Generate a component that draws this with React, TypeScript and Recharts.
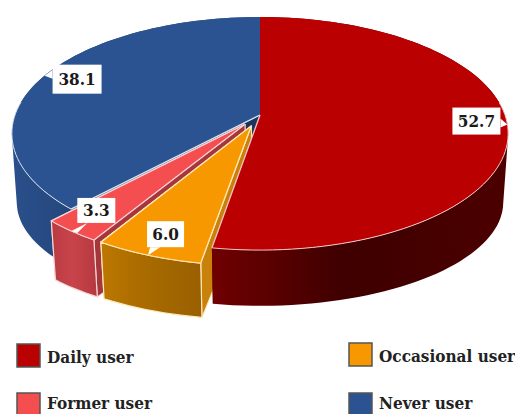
import React from "react";
import { PieChart, Pie, Legend } from "recharts";

// Data (drawn in this order, counter-clockwise from the top, so the front slices overlap correctly)
const names = ["Never user", "Former user", "Occasional user", "Daily user"];
const values = [38.1, 3.3, 6.0, 52.7];
const rows = names.map((name, i) => ({ name, value: values[i] }));

// Legend layout order
const legendNames = ["Daily user", "Occasional user", "Former user", "Never user"];

// Styles
const TOP: Record<string, string> = {
  "Daily user": "#BA0000",
  "Occasional user": "#F79800",
  "Former user": "#F44E50",
  "Never user": "#2C5391",
};
const CUT: Record<string, string> = {
  "Daily user": "#5a0000",
  "Occasional user": "#C8810A",
  "Former user": "#A5363C",
  "Never user": "#1B3560",
};
const WALL: Record<string, string[]> = {
  "Daily user": ["#700000", "#3E0000", "#4C0000"],
  "Occasional user": ["#BC7700", "#A86B00", "#9A5F00"],
  "Former user": ["#B93A42", "#C9444A", "#B5383F"],
  "Never user": ["#2A4F8A", "#1F3F72", "#2A4C82"],
};
const EDGE: Record<string, string> = {
  "Daily user": "#F6C8C8",
  "Occasional user": "#FFE9B8",
  "Former user": "#F8D4D4",
  "Never user": "#DCE4F0",
};
const EXPLODE: Record<string, number> = { "Occasional user": 0.1, "Former user": 0.1 };
const LABEL_BOX: Record<string, number[]> = {
  "Daily user": [-55, -17, 48, 27],
  "Never user": [8, -11, 49, 29],
  "Former user": [6, -33, 38, 25],
  "Occasional user": [-1, -34, 37, 26],
};
const LEGEND_POS: Record<string, number[]> = {
  "Daily user": [17, 344, 47, 363],
  "Occasional user": [349, 343, 379, 362],
  "Former user": [17, 393, 47, 409],
  "Never user": [349, 393, 379, 409],
};

const FONT = "'DejaVu Serif Condensed', 'DejaVu Serif', serif";
const PERSPECTIVE = 0.159;
const FLATTEN = 0.4637;
const DROP = 71;
const SHRINK_X = 0.98;
const SHRINK_Y = 0.887;

type Pt = [number, number];
const RAD = Math.PI / 180;

function project(cx: number, cy: number, R: number, u: number, v: number, bottom = false): Pt {
  const w = 1 - PERSPECTIVE * v;
  const x = (R * u) / w;
  const y = (R * FLATTEN * v) / w;
  if (!bottom) return [cx + x, cy + y];
  return [cx + x * SHRINK_X, cy + y * SHRINK_Y + DROP];
}

function pathOf(pts: Pt[], close = true) {
  return pts.map((p, i) => `${i ? "L" : "M"}${p[0].toFixed(2)} ${p[1].toFixed(2)}`).join("") + (close ? "Z" : "");
}

// A wall made of quads that all wind the same way, so that the fold at the silhouette stays filled
function wallPath(top: Pt[], bot: Pt[]) {
  let out = "";
  for (let i = 0; i < top.length - 1; i++) {
    const q: Pt[] = [top[i], top[i + 1], bot[i + 1], bot[i]];
    let area = 0;
    q.forEach((p, k) => {
      const n = q[(k + 1) % 4];
      area += p[0] * n[1] - n[0] * p[1];
    });
    out += pathOf(area < 0 ? [...q].reverse() : q);
  }
  return out;
}

function SliceShape(props: any) {
  const { cx, cy, outerRadius: R, startAngle, endAngle, name } = props;
  const label = name ?? props.payload?.name;
  const d = EXPLODE[label] ?? 0;
  const a0 = Math.min(startAngle, endAngle);
  const a1 = Math.max(startAngle, endAngle);
  const mid = ((a0 + a1) / 2) * RAD;
  const ox = Math.cos(mid) * d;
  const oy = -Math.sin(mid) * d;
  const steps = Math.max(8, Math.ceil((a1 - a0) / 2));
  const uvs: Pt[] = [];
  for (let i = 0; i <= steps; i++) {
    const a = (a0 + ((a1 - a0) * i) / steps) * RAD;
    uvs.push([Math.cos(a) + ox, -Math.sin(a) + oy]);
  }
  const top = uvs.map(([u, v]) => project(cx, cy, R, u, v));
  const bot = uvs.map(([u, v]) => project(cx, cy, R, u, v, true));
  const cTop = project(cx, cy, R, ox, oy);
  const cBot = project(cx, cy, R, ox, oy, true);
  const first = 0;
  const last = uvs.length - 1;
  const exploded = d > 0;
  const gid = "wall-" + label.replace(/\s/g, "");
  const [g0, g1, g2] = WALL[label];
  const edge = EDGE[label];

  // Highlight only along the front part of the rim
  const frontIdx = uvs.map((p, i) => (p[1] > -0.12 ? i : -1)).filter((i) => i >= 0);
  const rim = frontIdx.map((i) => top[i]);
  const edges: Pt[][] = [];
  if (uvs[first][1] > 0) edges.push([cTop, top[first]]);
  if (uvs[last][1] > 0) edges.push([cTop, top[last]]);

  return (
    <g>
      <defs>
        <linearGradient id={gid} x1="0" x2="1" y1="0" y2="0">
          <stop offset="0" stopColor={g0} />
          <stop offset="0.45" stopColor={g1} />
          <stop offset="1" stopColor={g2} />
        </linearGradient>
      </defs>
      <path
        d={pathOf([cTop, top[first], bot[first], cBot])}
        fill={CUT[label]}
        stroke={exploded ? edge : "none"}
        strokeWidth={1}
      />
      <path
        d={pathOf([cTop, top[last], bot[last], cBot])}
        fill={CUT[label]}
        stroke={exploded ? edge : "none"}
        strokeWidth={1}
      />
      <path d={wallPath(top, bot)} fill={`url(#${gid})`} />
      {exploded && (
        <path d={pathOf([...top, ...[...bot].reverse()])} fill="none" stroke={edge} strokeWidth={1.2} />
      )}
      <path d={pathOf([cTop, ...top])} fill={TOP[label]} />
      {rim.length > 1 && <path d={pathOf(rim, false)} fill="none" stroke={edge} strokeWidth={1} />}
      {edges.map((e, i) => (
        <path key={i} d={pathOf(e, false)} fill="none" stroke={edge} strokeWidth={1.3} />
      ))}
    </g>
  );
}

function Callout(props: any) {
  const { cx, cy, outerRadius: R, midAngle, value, name } = props;
  const label = name ?? props.payload?.name;
  const d = EXPLODE[label] ?? 0;
  const a = midAngle * RAD;
  const [tx, ty] = project(cx, cy, R, Math.cos(a) * (1 + d), -Math.sin(a) * (1 + d));
  const [dx, dy, w, h] = LABEL_BOX[label];
  const x = tx + dx;
  const y = ty + dy;
  const outX = tx < x ? x : tx > x + w ? x + w : null;
  const outY = ty < y ? y : ty > y + h ? y + h : null;
  let base: Pt[];
  if (outX !== null && outY !== null) {
    base = [
      [outX, outY - 10 * Math.sign(outY - ty)],
      [outX + 10 * Math.sign(outX - tx), outY],
    ];
  } else if (outX !== null) {
    base = [
      [outX, ty - 6],
      [outX, ty + 3],
    ];
  } else {
    const by = outY as number;
    base = [
      [tx + 2, by],
      [tx + 12, by],
    ];
  }
  return (
    <g>
      <path d={pathOf([[tx, ty], ...base])} fill="#fff" />
      <rect x={x} y={y} width={w} height={h} fill="#fff" />
      <text
        x={x + w / 2}
        y={y + h / 2 + 6}
        textAnchor="middle"
        fontFamily={FONT}
        fontWeight={700}
        fontSize={17}
        fill="#1a1a1a"
      >
        {Number(value).toFixed(1)}
      </text>
    </g>
  );
}

function LegendBlock() {
  return (
    <svg width={515} height={414} style={{ position: "absolute", left: 0, top: 0 }}>
      {legendNames.map((n) => {
        const [bx, by, tx, ty] = LEGEND_POS[n];
        return (
          <g key={n}>
            <rect x={bx} y={by} width={23} height={23} fill={TOP[n]} stroke="#555" strokeWidth={1.5} />
            <text x={tx} y={ty} fontFamily={FONT} fontWeight={700} fontSize={17} fill="#222">
              {n}
            </text>
          </g>
        );
      })}
    </svg>
  );
}

export default function App() {
  return (
    <div style={{ position: "absolute", left: 0, top: 0, width: 515, height: 414, overflow: "hidden", background: "#fff" }}>
      <PieChart width={515} height={414} margin={{ top: 0, right: 0, bottom: 0, left: 0 }}>
        <Pie
          data={rows}
          dataKey="value"
          nameKey="name"
          cx={260}
          cy={115}
          innerRadius={0}
          outerRadius={245}
          startAngle={90}
          endAngle={450}
          stroke="none"
          isAnimationActive={false}
          shape={SliceShape}
          label={Callout}
          labelLine={false}
        />
        <Legend
          content={() => <LegendBlock />}
          wrapperStyle={{ position: "absolute", left: 0, top: 0, bottom: "auto", width: 515, height: 414, pointerEvents: "none" }}
        />
      </PieChart>
    </div>
  );
}
